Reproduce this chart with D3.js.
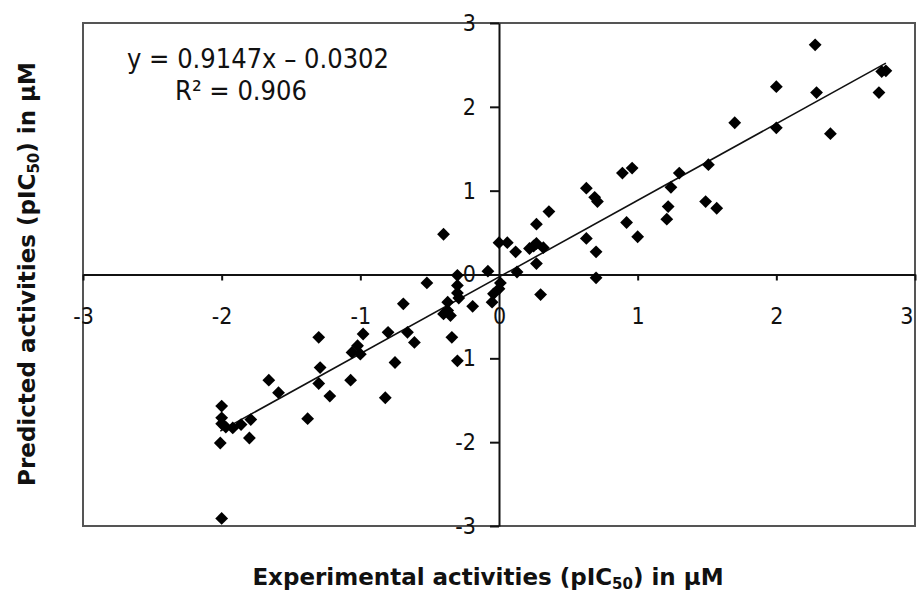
<!DOCTYPE html>
<meta charset="utf-8">
<script src="https://d3js.org/d3.v7.min.js"></script>
<style>
  body { margin: 0; background: #fff; }
  .tick text { font-family: "Liberation Sans Narrow", "DejaVu Sans Condensed", sans-serif; font-size: 23px; fill: #111; }
</style>
<div id="my_dataviz"></div>
<script>

// Experimental (x) vs predicted (y) pIC50 values
var experimental = [
  2.28, 2.00, 2.29, 2.76, 2.79, 2.74, 2.00, 2.39, 1.70, 1.51,
  1.30, 1.24, 1.22, 1.21, 1.49, 1.57, 0.89, 0.96, 0.92, 1.00,
  0.63, 0.69, 0.71, 0.63, 0.70, 0.70, 0.36, 0.27, 0.22, 0.27,
  0.32, 0.25, 0.27, 0.30, 0.12, 0.13, 0.00, 0.06, -0.08, 0.01,
  0.00, -0.04, -0.05,
  -0.40, -0.52, -0.30, -0.30, -0.30, -0.29, -0.37, -0.37, -0.35, -0.40,
  -0.19, -0.69, -0.34, -0.30, -0.75, -0.66, -0.61, -0.80, -0.98, -1.02,
  -1.06, -1.00, -1.07, -1.30, -1.29, -1.30, -1.22, -0.82, -1.38, -1.66,
  -1.59, -2.00, -2.00, -2.00, -2.01, -1.92, -1.86, -1.79, -1.80, -2.00,
  -1.97
];
var predicted = [
  2.74, 2.24, 2.17, 2.42, 2.43, 2.17, 1.75, 1.68, 1.81, 1.31,
  1.21, 1.04, 0.81, 0.66, 0.87, 0.79, 1.21, 1.27, 0.62, 0.45,
  1.03, 0.92, 0.87, 0.43, 0.27, -0.04, 0.75, 0.60, 0.31, 0.37,
  0.32, 0.34, 0.13, -0.24, 0.27, 0.03, 0.38, 0.38, 0.04, -0.10,
  -0.17, -0.23, -0.33,
  0.48, -0.10, -0.01, -0.13, -0.22, -0.28, -0.33, -0.43, -0.49, -0.47,
  -0.38, -0.35, -0.75, -1.03, -1.05, -0.69, -0.81, -0.69, -0.71, -0.85,
  -0.93, -0.95, -1.26, -0.75, -1.11, -1.30, -1.45, -1.47, -1.72, -1.26,
  -1.41, -1.57, -1.71, -1.78, -2.01, -1.83, -1.79, -1.73, -1.95, -2.91,
  -1.82
];

// Linear trendline shown on the chart
var slope = 0.9147, intercept = -0.0302, rSquared = 0.906;

var tickValues = [-3, -2, -1, 0, 1, 2, 3];

var points = experimental.map(function(d, i) { return {x: d, y: predicted[i]}; });

var width = 917, height = 592;

var svg = d3.select("#my_dataviz")
    .append("svg")
    .attr("width", width)
    .attr("height", height);

var x = d3.scaleLinear().domain([-3, 3]).range([83, 915]);
var y = d3.scaleLinear().domain([-3, 3]).range([526, 23]);

// Plot area frame
svg.append("rect")
    .attr("x", x(-3))
    .attr("y", y(3))
    .attr("width", x(3) - x(-3))
    .attr("height", y(-3) - y(3))
    .style("fill", "#fff")
    .style("stroke", "#555")
    .style("stroke-width", 2);

// Axes crossing at the origin
var xAxis = svg.append("g")
    .attr("transform", "translate(0," + y(0) + ")")
    .call(d3.axisBottom(x).tickValues(tickValues).tickSize(6).tickSizeOuter(0).tickPadding(27));
var yAxis = svg.append("g")
    .attr("transform", "translate(" + x(0) + ",0)")
    .call(d3.axisLeft(y).tickValues(tickValues).tickSize(9).tickSizeOuter(0).tickPadding(14));

[xAxis, yAxis].forEach(function(a) {
  a.select(".domain").style("stroke", "#111").style("stroke-width", 2);
  a.selectAll(".tick line").style("stroke", "#111").style("stroke-width", 2);
  a.selectAll(".tick text").text(function(d) { return d; });
});
// the axis at zero hides the tick at the frame edges
xAxis.selectAll(".tick line").filter(function(d) { return d === 0; }).remove();
yAxis.selectAll(".tick line").filter(function(d) { return d === 0; }).remove();
// keep the last x label inside the page
xAxis.selectAll(".tick text").filter(function(d) { return d === 3; }).attr("text-anchor", "end").attr("dx", -2);

// Trendline over the range of the data
var xr = d3.extent(experimental);
svg.append("line")
    .attr("x1", x(xr[0]))
    .attr("y1", y(slope * xr[0] + intercept))
    .attr("x2", x(xr[1]))
    .attr("y2", y(slope * xr[1] + intercept))
    .style("stroke", "#111")
    .style("stroke-width", 1.6);

// Diamond markers
var diamond = d3.symbol().type(d3.symbolSquare).size(82);
svg.selectAll(".pt")
    .data(points)
    .enter()
    .append("path")
    .attr("class", "pt")
    .attr("d", diamond)
    .attr("transform", function(d) { return "translate(" + x(d.x) + "," + y(d.y) + ") rotate(45)"; })
    .style("fill", "#000");

// Equation and R squared
var eqFont = '"Liberation Sans Narrow", "DejaVu Sans Condensed", sans-serif';
svg.append("text")
    .attr("x", 127)
    .attr("y", 68)
    .style("font-family", eqFont)
    .style("font-size", "27px")
    .style("fill", "#111")
    .text("y = " + slope + "x \u2013 " + Math.abs(intercept).toFixed(4));
svg.append("text")
    .attr("x", 175)
    .attr("y", 100)
    .style("font-family", eqFont)
    .style("font-size", "27px")
    .style("fill", "#111")
    .text("R\u00b2 = " + rSquared);

// Axis titles
var titleFont = '"DejaVu Sans", Verdana, sans-serif';
var xt = svg.append("text")
    .attr("x", 488)
    .attr("y", 585)
    .attr("text-anchor", "middle")
    .style("font-family", titleFont)
    .style("font-weight", "bold")
    .style("font-size", "23px")
    .style("fill", "#111");
xt.append("tspan").text("Experimental activities (pIC");
xt.append("tspan").attr("dy", 4).style("font-size", "15px").text("50");
xt.append("tspan").attr("dy", -4).text(") in \u03bcM");

var yt = svg.append("text")
    .attr("transform", "translate(35,274) rotate(-90)")
    .attr("text-anchor", "middle")
    .style("font-family", titleFont)
    .style("font-weight", "bold")
    .style("font-size", "23px")
    .style("fill", "#111");
yt.append("tspan").text("Predicted activities (pIC");
yt.append("tspan").attr("dy", 4).style("font-size", "15px").text("50");
yt.append("tspan").attr("dy", -4).text(") in \u03bcM");

</script>
